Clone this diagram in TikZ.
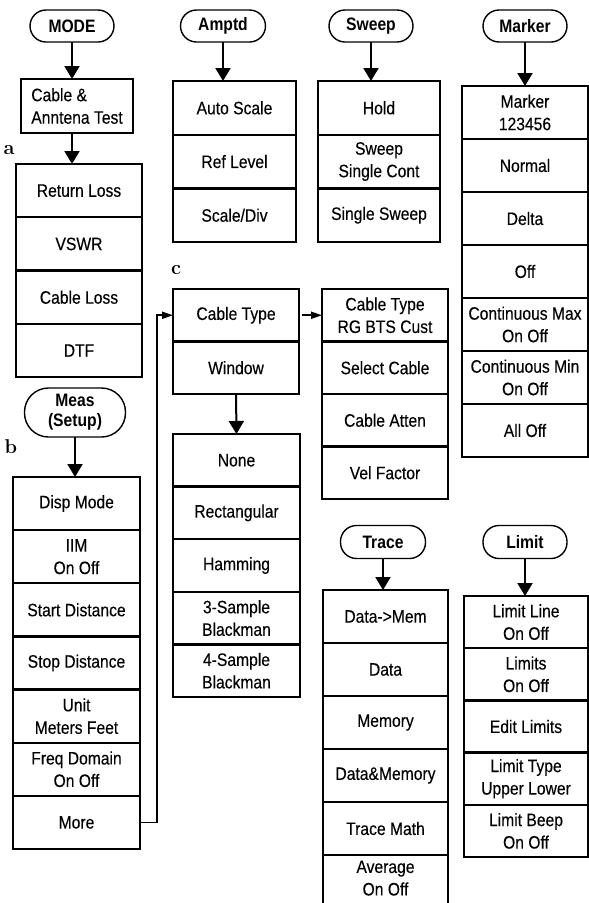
\documentclass[tikz,border=0pt]{standalone}
\usepackage{fontspec}
\newfontfamily\uf[FakeStretch=0.87,FakeBold=0.25]{Liberation Sans}
\newfontfamily\ufb[FakeStretch=0.87]{Liberation Sans Bold}
\usetikzlibrary{arrows.meta}
\tikzset{
  row/.style 2 args={draw, line width=2.3pt, inner sep=0pt, outer sep=0pt, minimum width=#1, minimum height=#2,
    align=center, font=\uf\fontsize{18}{22.5}\selectfont},
  pill/.style={draw, line width=1.4pt, inner sep=0pt, outer sep=0pt, align=center,
    font=\ufb\fontsize{18}{20}\selectfont},
  arr/.style={line width=2pt, -{Triangle[width=15pt,length=13pt]}},
  sarr/.style={line width=1.8pt, -{Triangle[width=7pt,length=11pt]}},
  lab/.style={font=\bfseries\fontsize{20}{22}\selectfont, inner sep=0pt},
}
\begin{document}
\begin{tikzpicture}[x=1pt,y=-1pt]
\useasboundingbox (0,0) rectangle (589,903);

% ---------- MODE ----------
\node[pill, minimum width=84, minimum height=32, rounded corners=16pt] (mode) at (72,26) {MODE};
\node[row={112}{54}, align=left] (cab) at (77,106) {Cable \&\\Anntena Test};
\node[lab] (la) at (9,150) {a};
\node[row={126}{53.3}] (a1) at (79,190.65) {Return Loss};
\node[row={126}{53.3}, anchor=north] (a2) at (a1.south) {VSWR};
\node[row={126}{53.3}, anchor=north] (a3) at (a2.south) {Cable Loss};
\node[row={126}{53.3}, anchor=north] (a4) at (a3.south) {DTF};
\draw[arr] (mode.south) -- (mode.south |- cab.north);
\draw[arr] (mode.south |- cab.south) -- (mode.south |- a1.north);

% ---------- Meas ----------
\node[pill, minimum width=101, minimum height=49, rounded corners=24pt] (meas) at (75,412.5) {Meas\\(Setup)};
\node[lab] (lb) at (11,447) {b};
\node[row={127}{53.14}] (b1) at (76.5,503.57) {Disp Mode};
\node[row={127}{53.14}, anchor=north] (b2) at (b1.south) {IIM\\On Off};
\node[row={127}{53.14}, anchor=north] (b3) at (b2.south) {Start Distance};
\node[row={127}{53.14}, anchor=north] (b4) at (b3.south) {Stop Distance};
\node[row={127}{53.14}, anchor=north] (b5) at (b4.south) {Unit\\Meters Feet};
\node[row={127}{53.14}, anchor=north] (b6) at (b5.south) {Freq Domain\\On Off};
\node[row={127}{53.14}, anchor=north] (b7) at (b6.south) {More};
\draw[arr] (meas.south) -- (meas.south |- b1.north);

% ---------- Amptd ----------
\node[pill, minimum width=85, minimum height=32, rounded corners=16pt] (amp) at (223,26) {Amptd};
\node[row={123}{53.7}] (m1) at (234.5,107.85) {Auto Scale};
\node[row={123}{53.7}, anchor=north] (m2) at (m1.south) {Ref Level};
\node[row={123}{53.7}, anchor=north] (m3) at (m2.south) {Scale/Div};
\draw[arr] (amp.south) -- (amp.south |- m1.north);

% ---------- Sweep ----------
\node[pill, minimum width=84, minimum height=32, rounded corners=16pt] (swp) at (371,26) {Sweep};
\node[row={122}{53.7}] (s1) at (379,107.85) {Hold};
\node[row={122}{53.7}, anchor=north] (s2) at (s1.south) {Sweep\\Single Cont};
\node[row={122}{53.7}, anchor=north] (s3) at (s2.south) {Single Sweep};
\draw[arr] (swp.south) -- (swp.south |- s1.north);

% ---------- Marker ----------
\node[pill, minimum width=84, minimum height=32, rounded corners=16pt] (mkr) at (525,26) {Marker};
\node[row={126}{53}] (k1) at (525,112.5) {Marker\\123456};
\node[row={126}{53}, anchor=north] (k2) at (k1.south) {Normal};
\node[row={126}{53}, anchor=north] (k3) at (k2.south) {Delta};
\node[row={126}{53}, anchor=north] (k4) at (k3.south) {Off};
\node[row={126}{53}, anchor=north] (k5) at (k4.south) {Continuous Max\\On Off};
\node[row={126}{53}, anchor=north] (k6) at (k5.south) {Continuous Min\\On Off};
\node[row={126}{53}, anchor=north] (k7) at (k6.south) {All Off};
\draw[arr] (mkr.south) -- (mkr.south |- k1.north);

% ---------- Cable Type / Window ----------
\node[lab] (lc) at (176,270) {c};
\node[row={126}{52.5}] (c1) at (236,315.25) {Cable Type};
\node[row={126}{52.5}, anchor=north] (c2) at (c1.south) {Window};
\node[row={126}{52.5}] (r1) at (385,315.25) {Cable Type\\RG BTS Cust};
\node[row={126}{52.5}, anchor=north] (r2) at (r1.south) {Select Cable};
\node[row={126}{52.5}, anchor=north] (r3) at (r2.south) {Cable Atten};
\node[row={126}{52.5}, anchor=north] (r4) at (r3.south) {Vel Factor};
\node[row={127}{52.6}] (w1) at (236.5,460.3) {None};
\node[row={127}{52.6}, anchor=north] (w2) at (w1.south) {Rectangular};
\node[row={127}{52.6}, anchor=north] (w3) at (w2.south) {Hamming};
\node[row={127}{52.6}, anchor=north] (w4) at (w3.south) {3-Sample\\Blackman};
\node[row={127}{52.6}, anchor=north] (w5) at (w4.south) {4-Sample\\Blackman};
\draw[sarr, shorten <=3pt] (c1.east) -- (r1.west);
\draw[arr] (c2.south) -- (w1.north);
\draw[sarr] (b7.east) -- ++(17,0) |- (c1.west);

% ---------- Trace ----------
\node[pill, minimum width=85, minimum height=33, rounded corners=16pt] (trc) at (383,542) {Trace};
\node[row={125}{53}] (t1) at (385.5,616.5) {Data->Mem};
\node[row={125}{53}, anchor=north] (t2) at (t1.south) {Data};
\node[row={125}{53}, anchor=north] (t3) at (t2.south) {Memory};
\node[row={125}{53}, anchor=north] (t4) at (t3.south) {Data\&Memory};
\node[row={125}{53}, anchor=north] (t5) at (t4.south) {Trace Math};
\node[row={125}{53}, anchor=north, text depth=7pt] (t6) at (t5.south) {Average\\On Off};
\draw[arr] (trc.south) -- (trc.south |- t1.north);

% ---------- Limit ----------
\node[pill, minimum width=84, minimum height=33, rounded corners=16pt] (lim) at (525,542) {Limit};
\node[row={124}{52.2}] (l1) at (526,622.1) {Limit Line\\On Off};
\node[row={124}{52.2}, anchor=north] (l2) at (l1.south) {Limits\\On Off};
\node[row={124}{52.2}, anchor=north] (l3) at (l2.south) {Edit Limits};
\node[row={124}{52.2}, anchor=north] (l4) at (l3.south) {Limit Type\\Upper Lower};
\node[row={124}{52.2}, anchor=north] (l5) at (l4.south) {Limit Beep\\On Off};
\draw[arr] (lim.south) -- (lim.south |- l1.north);
\end{tikzpicture}
\end{document}
